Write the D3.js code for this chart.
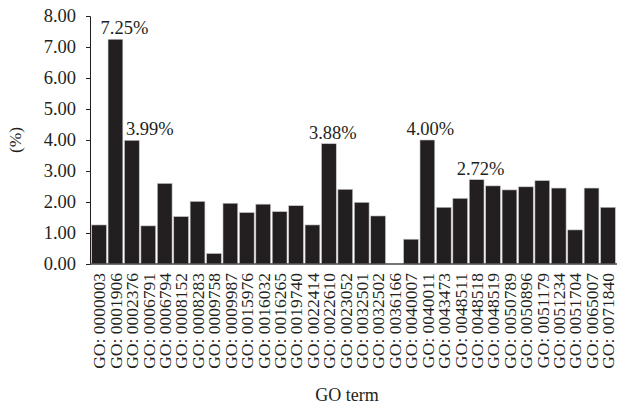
<!DOCTYPE html>
<html>
<head>
<meta charset="utf-8">
<script src="https://cdn.jsdelivr.net/npm/d3@7"></script>
<style>
  html, body { margin: 0; padding: 0; background: #fff; }
  svg { display: block; }
  text { font-family: "Liberation Serif", "Times New Roman", serif; fill: #231f20; }
</style>
</head>
<body>
<svg id="chart" width="621" height="408"></svg>
<script>
// GO term identifiers along the x axis
const goTerms = [
  "0000003", "0001906", "0002376", "0006791", "0006794", "0008152", "0008283", "0009758",
  "0009987", "0015976", "0016032", "0016265", "0019740", "0022414", "0022610", "0023052",
  "0032501", "0032502", "0036166", "0040007", "0040011", "0043473", "0048511", "0048518",
  "0048519", "0050789", "0050896", "0051179", "0051234", "0051704", "0065007", "0071840"
];

// Share of genes per GO term (%)
const percents = [
  1.26, 7.25, 3.99, 1.23, 2.60, 1.53, 2.02, 0.34,
  1.96, 1.66, 1.93, 1.69, 1.88, 1.26, 3.88, 2.41,
  1.99, 1.55, 0.00, 0.80, 4.00, 1.83, 2.12, 2.72,
  2.52, 2.39, 2.49, 2.69, 2.45, 1.10, 2.45, 1.83
];

// Terms whose values are printed above the bar
const labelledTerms = ["0001906", "0002376", "0022610", "0040011", "0048518"];

// Y axis tick values
const yTicks = [0, 1, 2, 3, 4, 5, 6, 7, 8];

const svg = d3.select("#chart");
const margin = { left: 90, right: 4, top: 16, bottom: 144 };
const W = 621, H = 408;
const barColor = "#231f20";

const x = d3.scaleBand()
  .domain(goTerms)
  .range([margin.left, W - margin.right])
  .paddingInner(0.1)
  .paddingOuter(0.1);

const y = d3.scaleLinear()
  .domain([0, 8])
  .range([H - margin.bottom, margin.top]);

// Bars
svg.append("g")
  .selectAll("rect")
  .data(goTerms)
  .join("rect")
  .attr("x", d => x(d))
  .attr("width", x.bandwidth())
  .attr("y", (d, i) => y(percents[i]))
  .attr("height", (d, i) => y(0) - y(percents[i]))
  .attr("fill", barColor)
  .attr("stroke", "#c8c8c8")
  .attr("stroke-width", 0.6);

// Y axis
const yAxis = svg.append("g")
  .attr("transform", `translate(${margin.left},0)`)
  .call(d3.axisLeft(y).tickValues(yTicks).tickFormat(d3.format(".2f")).tickSize(4).tickPadding(10));
yAxis.select(".domain").attr("stroke", "#231f20").attr("stroke-width", 1);
yAxis.selectAll(".tick line").attr("stroke", "#231f20");
yAxis.selectAll(".tick text")
  .attr("font-family", "Liberation Serif, serif")
  .attr("font-size", 18.5)
  .attr("fill", "#231f20");

// X axis with rotated term labels
const xAxis = svg.append("g")
  .attr("transform", `translate(0,${y(0)})`)
  .call(d3.axisBottom(x).tickSize(0).tickPadding(0).tickFormat(d => "GO: " + d));
xAxis.select(".domain")
  .attr("d", `M${margin.left},0H${W - margin.right}`)
  .attr("stroke", "#4a4748")
  .attr("stroke-width", 1.6);
xAxis.selectAll(".tick text")
  .attr("font-family", "Liberation Serif, serif")
  .attr("font-size", 17.5)
  .attr("fill", "#231f20")
  .attr("text-anchor", "end")
  .attr("transform", "rotate(-90)")
  .attr("x", -9)
  .attr("y", 0)
  .attr("dy", "0.36em");

// Value labels above selected bars, nudged right where a taller neighbour would cover them
const labelShift = { "0001906": 9, "0002376": 18, "0022610": 4, "0040011": 3, "0048518": 4 };
svg.append("g")
  .selectAll("text")
  .data(labelledTerms)
  .join("text")
  .attr("x", d => x(d) + x.bandwidth() / 2 + labelShift[d])
  .attr("y", d => y(percents[goTerms.indexOf(d)]) - 5)
  .attr("text-anchor", "middle")
  .attr("font-size", 18.5)
  .text(d => percents[goTerms.indexOf(d)].toFixed(2) + "%");

// Axis titles
svg.append("text")
  .attr("x", 347)
  .attr("y", 401)
  .attr("text-anchor", "middle")
  .attr("font-size", 18)
  .text("GO term");

svg.append("text")
  .attr("transform", `translate(21,${(y(0) + y(8)) / 2}) rotate(-90)`)
  .attr("text-anchor", "middle")
  .attr("font-size", 17.5)
  .text("(%)");
</script>
</body>
</html>
